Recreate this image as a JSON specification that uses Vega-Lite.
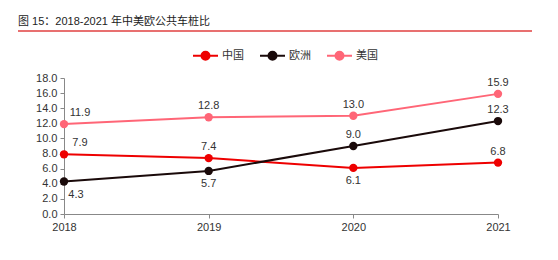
{
  "$schema": "https://vega.github.io/schema/vega-lite/v6.json",
  "autosize": {"type": "none"},
  "width": 434,
  "height": 136,
  "padding": {"left": 64, "top": 78, "right": 60, "bottom": 46},
  "background": "white",
  "title": {
    "text": "图 15：2018-2021 年中美欧公共车桩比",
    "anchor": "start",
    "frame": "group",
    "dx": -46,
    "offset": 3,
    "fontSize": 11,
    "fontWeight": "normal",
    "font": "Liberation Sans, Noto Sans CJK SC",
    "color": "#222222"
  },
  "config": {
    "view": {"stroke": null},
    "font": "Liberation Sans, Noto Sans CJK SC",
    "axis": {
      "labelFont": "Liberation Sans",
      "labelFontSize": 11,
      "labelColor": "#333333",
      "domainColor": "#888888",
      "tickColor": "#888888",
      "grid": false,
      "title": null
    }
  },
  "data": {
    "values": [
      {"year": "2018", "region": "中国", "ratio": 7.9},
      {"year": "2019", "region": "中国", "ratio": 7.4},
      {"year": "2020", "region": "中国", "ratio": 6.1},
      {"year": "2021", "region": "中国", "ratio": 6.8},
      {"year": "2018", "region": "欧洲", "ratio": 4.3},
      {"year": "2019", "region": "欧洲", "ratio": 5.7},
      {"year": "2020", "region": "欧洲", "ratio": 9.0},
      {"year": "2021", "region": "欧洲", "ratio": 12.3},
      {"year": "2018", "region": "美国", "ratio": 11.9},
      {"year": "2019", "region": "美国", "ratio": 12.8},
      {"year": "2020", "region": "美国", "ratio": 13.0},
      {"year": "2021", "region": "美国", "ratio": 15.9}
    ]
  },
  "encoding": {
    "x": {
      "field": "year",
      "type": "ordinal",
      "scale": {"type": "point", "padding": 0},
      "axis": {"labelAngle": 0, "tickSize": 4, "labelPadding": 3}
    },
    "y": {
      "field": "ratio",
      "type": "quantitative",
      "scale": {"domain": [0, 18], "nice": false},
      "axis": {"values": [0, 2, 4, 6, 8, 10, 12, 14, 16, 18], "format": ".1f", "tickSize": 4, "labelPadding": 3}
    }
  },
  "layer": [
    {
      "mark": {"type": "rule", "color": "#e87070", "strokeWidth": 2},
      "encoding": {
        "x": {"value": -46},
        "x2": {"value": 468},
        "y": {"value": -47}
      },
      "data": {"values": [{}]}
    },
    {
      "mark": {"type": "line", "strokeWidth": 2, "point": {"size": 70, "filled": true, "opacity": 1}},
      "encoding": {
        "color": {
          "field": "region",
          "type": "nominal",
          "scale": {"domain": ["中国", "欧洲", "美国"], "range": ["#ee0000", "#1a0a0a", "#ff6677"]},
          "legend": {
            "orient": "none",
            "direction": "horizontal",
            "legendX": 128,
            "legendY": -36,
            "title": null,
            "labelFontSize": 11,
            "labelColor": "#333333",
            "labelFont": "Noto Sans CJK SC",
            "symbolType": "M-1,0H1M-0.32,0A0.32,0.32 0 1,1 0.32,0A0.32,0.32 0 1,1 -0.32,0Z",
            "symbolSize": 625,
            "symbolStrokeWidth": 2,
            "columnPadding": 12,
            "labelOffset": 3
          }
        }
      }
    },
    {
      "transform": [
        {"filter": "datum.year != '2018' && !((datum.region == '欧洲' && datum.year == '2019') || (datum.region == '中国' && datum.year == '2020'))"}
      ],
      "mark": {"type": "text", "baseline": "bottom", "dy": -6, "fontSize": 11, "color": "#333333", "font": "Liberation Sans"},
      "encoding": {"text": {"field": "ratio", "type": "quantitative", "format": ".1f"}}
    },
    {
      "transform": [
        {"filter": "(datum.region == '欧洲' && datum.year == '2019') || (datum.region == '中国' && datum.year == '2020')"}
      ],
      "mark": {"type": "text", "baseline": "top", "dy": 7, "fontSize": 11, "color": "#333333", "font": "Liberation Sans"},
      "encoding": {"text": {"field": "ratio", "type": "quantitative", "format": ".1f"}}
    },
    {
      "transform": [
        {"filter": "datum.year == '2018' && datum.region != '欧洲'"}
      ],
      "mark": {"type": "text", "baseline": "bottom", "dy": -6, "dx": 16, "fontSize": 11, "color": "#333333", "font": "Liberation Sans"},
      "encoding": {"text": {"field": "ratio", "type": "quantitative", "format": ".1f"}}
    },
    {
      "transform": [
        {"filter": "datum.year == '2018' && datum.region == '欧洲'"}
      ],
      "mark": {"type": "text", "baseline": "top", "dy": 7, "dx": 12, "fontSize": 11, "color": "#333333", "font": "Liberation Sans"},
      "encoding": {"text": {"field": "ratio", "type": "quantitative", "format": ".1f"}}
    }
  ]
}
